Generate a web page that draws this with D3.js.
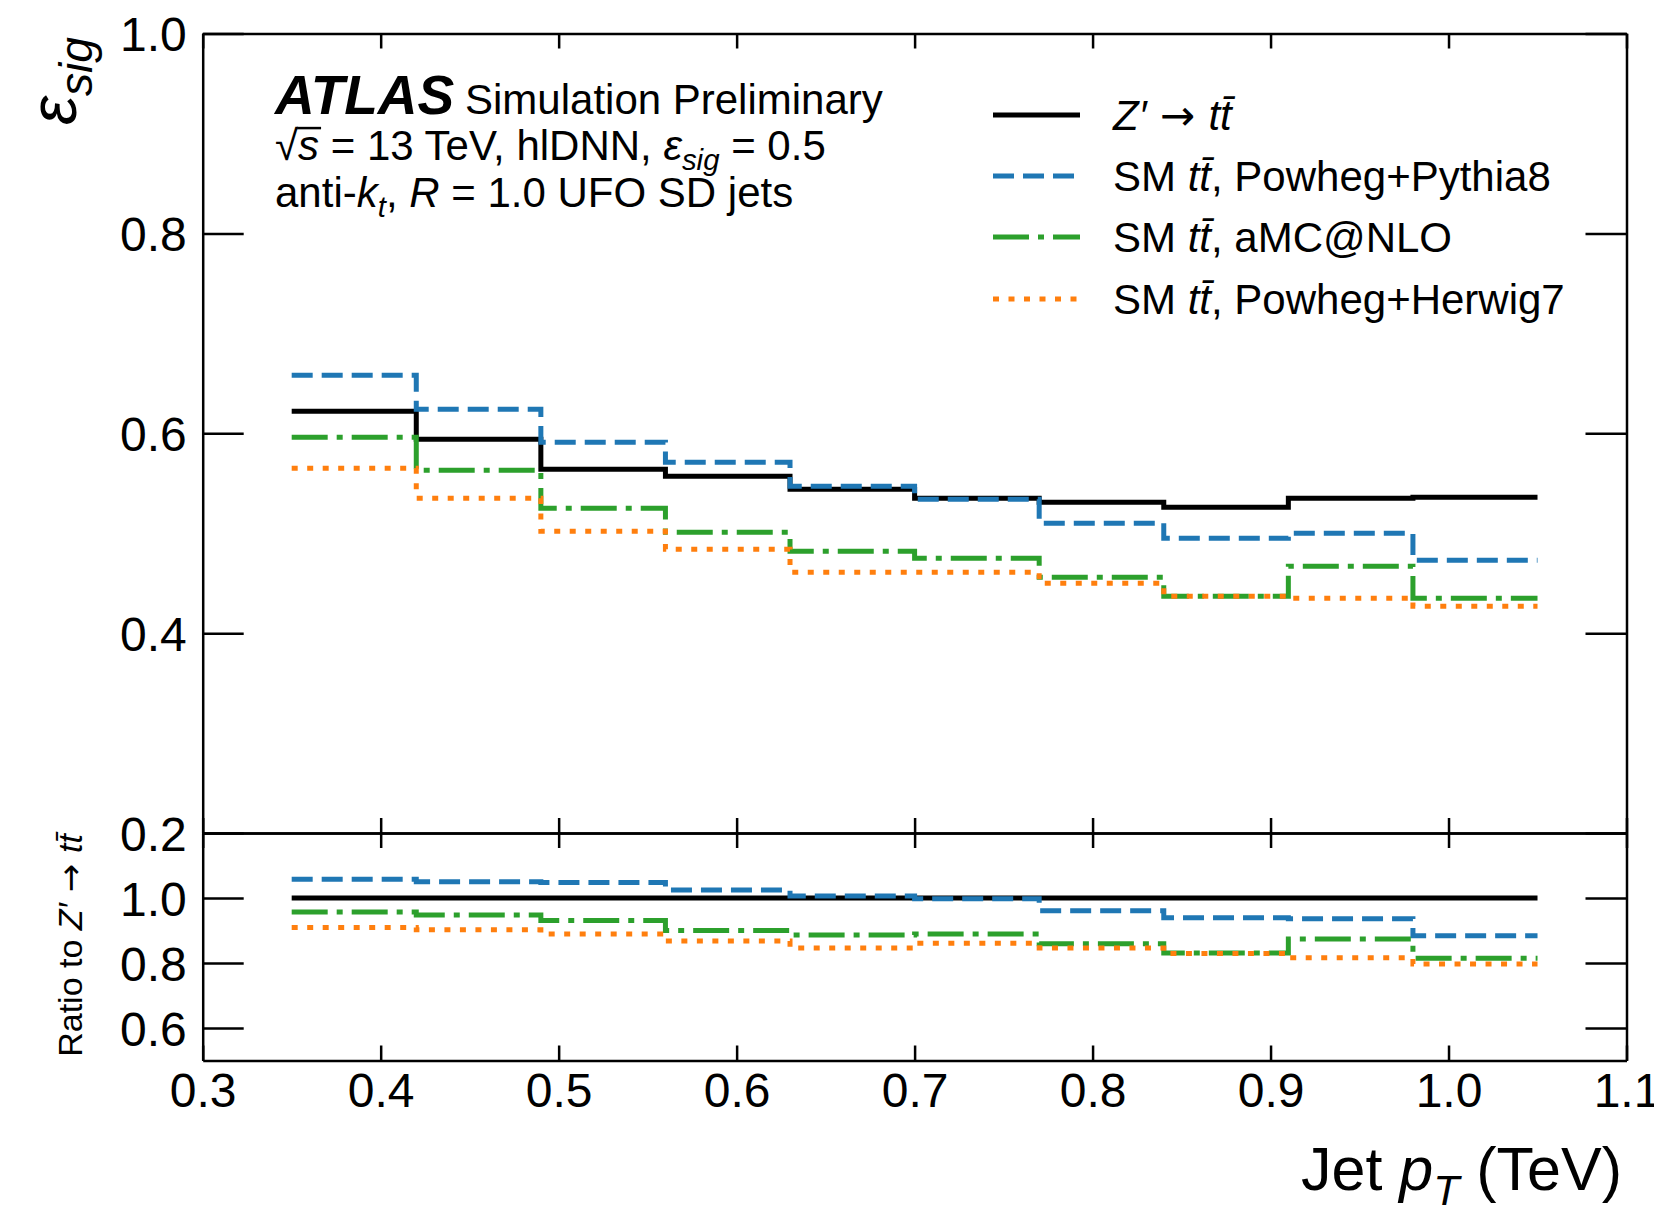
<!DOCTYPE html>
<html>
<head>
<meta charset="utf-8">
<script src="https://cdn.jsdelivr.net/npm/d3@7"></script>
<style>
  body { margin: 0; background: #fff; }
  svg text { font-family: "Liberation Sans", Arial, Helvetica, sans-serif; fill: #000; }
  .axis path, .axis line { stroke: #000; stroke-width: 2.5; }
</style>
</head>
<body>
<div id="chart"></div>
<script>
// bin edges of jet pT (TeV)
const binEdges = [0.35, 0.42, 0.49, 0.56, 0.63, 0.70, 0.77, 0.84, 0.91, 0.98, 1.05];

// signal efficiency per bin
const effZprime = [0.622, 0.594, 0.564, 0.557, 0.544, 0.535, 0.531, 0.526, 0.535, 0.536];
const effPythia = [0.658, 0.624, 0.591, 0.571, 0.547, 0.534, 0.510, 0.495, 0.500, 0.473];
const effAmc    = [0.596, 0.563, 0.525, 0.501, 0.482, 0.475, 0.456, 0.437, 0.467, 0.435];
const effHerwig = [0.565, 0.535, 0.502, 0.484, 0.461, 0.461, 0.450, 0.437, 0.435, 0.427];

// ratio to Z' -> tt
const ratioZprime = [1.0, 1.0, 1.0, 1.0, 1.0, 1.0, 1.0, 1.0, 1.0, 1.0];
const ratioPythia = [1.058, 1.050, 1.048, 1.025, 1.006, 0.998, 0.961, 0.939, 0.936, 0.884];
const ratioAmc    = [0.957, 0.948, 0.931, 0.900, 0.886, 0.889, 0.859, 0.831, 0.874, 0.815];
const ratioHerwig = [0.909, 0.902, 0.889, 0.868, 0.846, 0.861, 0.846, 0.829, 0.816, 0.797];

const xTicks = [0.3, 0.4, 0.5, 0.6, 0.7, 0.8, 0.9, 1.0, 1.1];
const mainTicks = [0.2, 0.4, 0.6, 0.8, 1.0];
const ratioTicks = [0.6, 0.8, 1.0];

const W = 1654, H = 1211;
const frameL = 202.7, frameR = 1626.5, frameT = 33.5, frameSep = 833, frameB = 1060.5;

const svg = d3.select("#chart").append("svg")
  .attr("width", W).attr("height", H);

const x = d3.scaleLinear().domain([0.3, 1.1]).range([frameL, frameR]);
const yMain = d3.scaleLinear().domain([0.2, 1.0]).range([frameSep, frameT]);
const yRatio = d3.scaleLinear().domain([0.5, 1.2]).range([frameB, frameSep]);

const series = [
  { name: "zp", eff: effZprime, ratio: ratioZprime, color: "#000000", dash: null },
  { name: "py", eff: effPythia, ratio: ratioPythia, color: "#1f77b4", dash: "21,9" },
  { name: "amc", eff: effAmc, ratio: ratioAmc, color: "#2ca02c", dash: "36,9,6,9" },
  { name: "hw", eff: effHerwig, ratio: ratioHerwig, color: "#ff7f0e", dash: "6,9.5" }
];

// step points: value i holds from edge i to edge i+1
function stepPoints(vals) {
  const pts = vals.map((v, i) => [binEdges[i], v]);
  pts.push([binEdges[binEdges.length - 1], vals[vals.length - 1]]);
  return pts;
}

function drawSteps(yScale, key) {
  const line = d3.line()
    .x(d => x(d[0]))
    .y(d => yScale(d[1]))
    .curve(d3.curveStepAfter);
  series.forEach(s => {
    svg.append("path")
      .attr("d", line(stepPoints(s[key])))
      .attr("fill", "none")
      .attr("stroke", s.color)
      .attr("stroke-width", 5)
      .attr("stroke-dasharray", s.dash);
  });
}

drawSteps(yMain, "eff");
drawSteps(yRatio, "ratio");

// axes, ticks pointing inward
const tickFs = 48;
function styleAxis(g) {
  g.attr("class", "axis");
  g.selectAll("text").attr("font-size", tickFs).attr("fill", "#000")
    .style("font-family", "'Liberation Sans', Arial, sans-serif");
}

// main panel
svg.append("g").attr("transform", `translate(${frameL},0)`)
  .call(d3.axisLeft(yMain).tickValues(mainTicks).tickFormat(d3.format(".1f"))
    .tickSizeInner(-41).tickSizeOuter(0).tickPadding(16))
  .call(styleAxis)
  .call(g => g.selectAll("text").attr("dy", "0.36em"));
svg.append("g").attr("transform", `translate(${frameR},0)`)
  .call(d3.axisRight(yMain).tickValues(mainTicks).tickFormat("")
    .tickSizeInner(-41).tickSizeOuter(0))
  .call(styleAxis);
svg.append("g").attr("transform", `translate(0,${frameT})`)
  .call(d3.axisTop(x).tickValues(xTicks).tickFormat("")
    .tickSizeInner(-15).tickSizeOuter(0))
  .call(styleAxis);
svg.append("g").attr("transform", `translate(0,${frameSep})`)
  .call(d3.axisBottom(x).tickValues(xTicks).tickFormat("")
    .tickSizeInner(-15).tickSizeOuter(0))
  .call(styleAxis);

// ratio panel
svg.append("g").attr("transform", `translate(${frameL},0)`)
  .call(d3.axisLeft(yRatio).tickValues(ratioTicks).tickFormat(d3.format(".1f"))
    .tickSizeInner(-41).tickSizeOuter(0).tickPadding(16))
  .call(styleAxis)
  .call(g => g.selectAll("text").attr("dy", "0.36em"));
svg.append("g").attr("transform", `translate(${frameR},0)`)
  .call(d3.axisRight(yRatio).tickValues(ratioTicks).tickFormat("")
    .tickSizeInner(-41).tickSizeOuter(0))
  .call(styleAxis);
svg.append("g").attr("transform", `translate(0,${frameSep})`)
  .call(d3.axisTop(x).tickValues(xTicks).tickFormat("")
    .tickSizeInner(-15).tickSizeOuter(0))
  .call(styleAxis);
svg.append("g").attr("transform", `translate(0,${frameB})`)
  .call(d3.axisBottom(x).tickValues(xTicks).tickFormat(d3.format(".1f"))
    .tickSizeInner(-15).tickSizeOuter(0).tickPadding(12))
  .call(styleAxis);

// text with italic / subscript pieces
function addParts(textSel, parts, fs) {
  let shift = 0;
  parts.forEach(p => {
    const ts = textSel.append("tspan").text(p.t);
    const target = p.sub ? fs * 0.24 : 0;
    if (target !== shift) { ts.attr("dy", target - shift); shift = target; }
    if (p.sub) ts.attr("font-size", fs * 0.7);
    if (p.it) ts.attr("font-style", "italic");
    if (p.bold) ts.attr("font-weight", "bold");
    if (p.over) ts.classed("over", true);
    if (p.sym) ts.style("font-family", "'DejaVu Sans', sans-serif");
  });
}

function label(xp, yp, parts, fs, anchor, rotate) {
  const g = svg.append("g")
    .attr("transform", `translate(${xp},${yp})` + (rotate ? " rotate(-90)" : ""));
  const t = g.append("text")
    .attr("font-size", fs)
    .attr("text-anchor", anchor || "start");
  addParts(t, parts, fs);
  return g;
}

const tt = [{ t: "t", it: true }, { t: "t\u0304", it: true }];
const arrow = { t: " \u2192 ", sym: true };

// axis titles
label(76, 37, [{ t: "\u03b5", it: true }, { t: "sig", it: true, sub: true }], 66, "end", true);
label(82, 834, [{ t: "Ratio to " }, { t: "Z\u2032", it: true }, arrow, ...tt], 34, "end", true);
label(1622, 1190, [{ t: "Jet " }, { t: "p", it: true }, { t: "T", it: true, sub: true }, { t: " (TeV)" }], 61, "end");

// ATLAS block
const annFs = 42;
label(275, 114, [{ t: "ATLAS", it: true, bold: true }], 55);
label(465, 114, [{ t: "Simulation Preliminary" }], annFs);
const sqrtLine = label(275, 160, [{ t: "\u221a" }, { t: "s", it: true, over: true }, { t: " = 13 TeV, hlDNN, " },
  { t: "\u03b5", it: true }, { t: "sig", it: true, sub: true }, { t: " = 0.5" }], annFs);
label(275, 207, [{ t: "anti-" }, { t: "k", it: true }, { t: "t", it: true, sub: true },
  { t: ", " }, { t: "R", it: true }, { t: " = 1.0 UFO SD jets" }], annFs);

// bar of the square root, drawn over the s
const sNode = sqrtLine.select("tspan.over").node();
const sx0 = sNode.getStartPositionOfChar(0).x;
const sx1 = sNode.getEndPositionOfChar(0).x;
sqrtLine.append("line")
  .attr("x1", sx0 - 1).attr("x2", sx1 + 2)
  .attr("y1", -annFs * 0.76).attr("y2", -annFs * 0.76)
  .attr("stroke", "#000").attr("stroke-width", 2.5);

// legend
const legendNames = [
  [{ t: "Z\u2032", it: true }, arrow, ...tt],
  [{ t: "SM " }, ...tt, { t: ", Powheg+Pythia8" }],
  [{ t: "SM " }, ...tt, { t: ", aMC@NLO" }],
  [{ t: "SM " }, ...tt, { t: ", Powheg+Herwig7" }]
];
const legendY = [115, 176, 237, 299];
series.forEach((s, i) => {
  svg.append("line")
    .attr("x1", 993).attr("x2", 1080)
    .attr("y1", legendY[i]).attr("y2", legendY[i])
    .attr("stroke", s.color).attr("stroke-width", 5)
    .attr("stroke-dasharray", s.dash);
  label(1113, legendY[i] + 15, legendNames[i], annFs);
});
</script>
</body>
</html>
